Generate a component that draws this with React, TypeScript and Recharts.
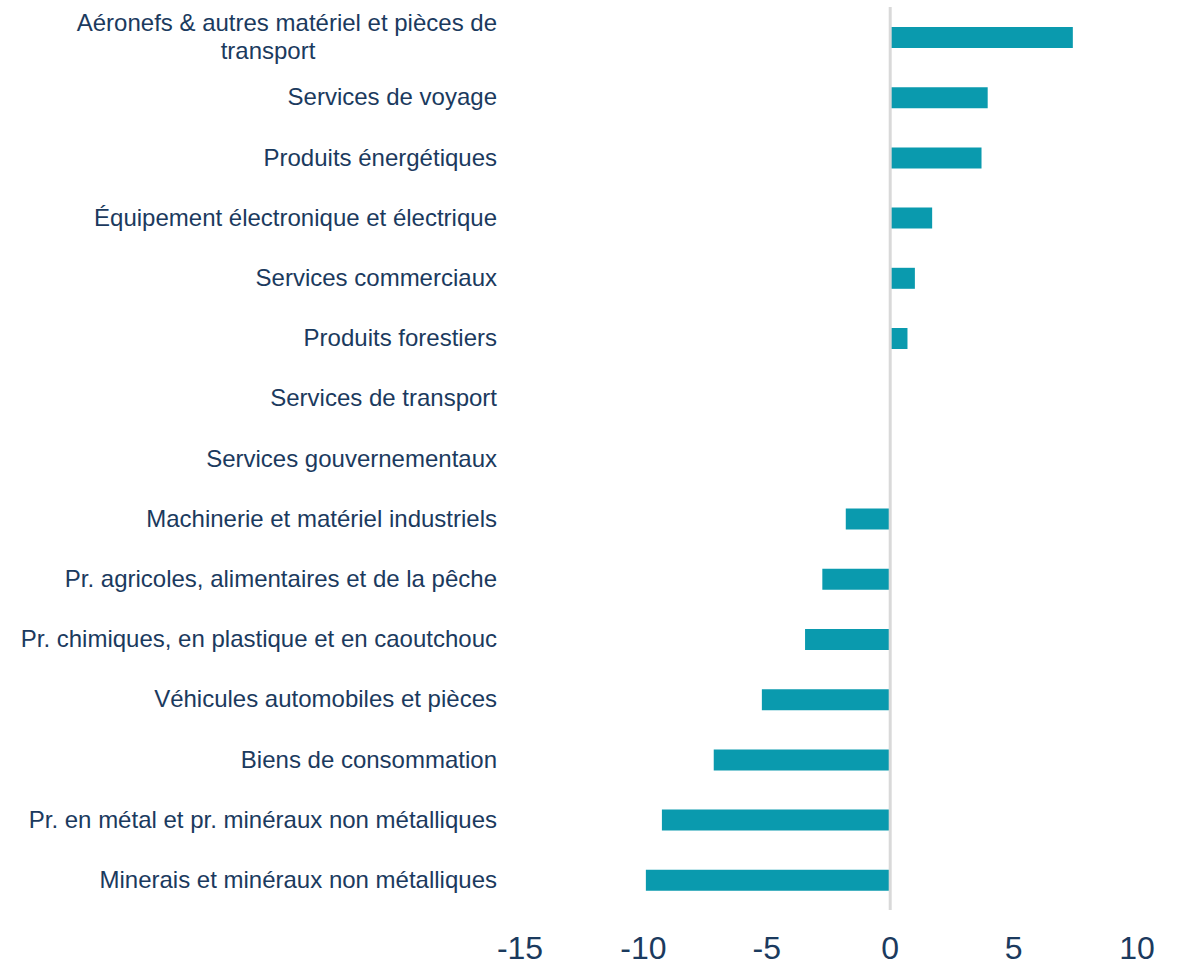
import React from 'react'
import { BarChart, Bar, XAxis, YAxis, ReferenceLine } from 'recharts'

const categories = [
  'Aéronefs & autres matériel et pièces de\ntransport',
  'Services de voyage',
  'Produits énergétiques',
  'Équipement électronique et électrique',
  'Services commerciaux',
  'Produits forestiers',
  'Services de transport',
  'Services gouvernementaux',
  'Machinerie et matériel industriels',
  'Pr. agricoles, alimentaires et de la pêche',
  'Pr. chimiques, en plastique et en caoutchouc',
  'Véhicules automobiles et pièces',
  'Biens de consommation',
  'Pr. en métal et pr. minéraux non métalliques',
  'Minerais et minéraux non métalliques',
]

const values = [7.4, 3.95, 3.7, 1.7, 1.0, 0.7, 0, 0, -1.8, -2.75, -3.45, -5.2, -7.15, -9.25, -9.9]

const xTicks = [-15, -10, -5, 0, 5, 10]

const data = categories.map((name, i) => ({ name, value: values[i] }))

const textColor = '#1B3A5E'
const barColor = '#0A9AAE'
const font = "'Liberation Sans', Arial, sans-serif"

function CategoryTick({ x, y, payload }: any) {
  const lines = String(payload.value).split('\n')
  if (lines.length === 1) {
    return (
      <text x={x} y={y} dy={8} textAnchor="end" fill={textColor} fontSize={24} fontFamily={font}>
        {lines[0]}
      </text>
    )
  }
  // wrapped label: second line sits centred under the first
  return (
    <g fontSize={24} fontFamily={font} fill={textColor}>
      <text x={x} y={y - 14} dy={8} textAnchor="end">{lines[0]}</text>
      <text x={x - 229} y={y + 14} dy={8} textAnchor="middle">{lines[1]}</text>
    </g>
  )
}

function ValueTick({ x, y, payload }: any) {
  return (
    <text x={x} y={y} dy={22} textAnchor="middle" fill={textColor} fontSize={32} fontFamily={font}>
      {payload.value}
    </text>
  )
}

export default function App() {
  return (
    <div style={{ position: 'absolute', left: 0, top: 0, background: '#fff' }}>
      <BarChart
        width={1183}
        height={966}
        data={data}
        layout="vertical"
        margin={{ top: 7, right: 46, bottom: 0, left: 0 }}
      >
        <XAxis
          type="number"
          domain={[-15, 10]}
          ticks={xTicks}
          axisLine={false}
          tickLine={false}
          tickSize={0}
          tickMargin={27}
          height={56}
          tick={<ValueTick />}
        />
        <YAxis
          type="category"
          dataKey="name"
          width={520}
          axisLine={false}
          tickLine={false}
          tickSize={0}
          tickMargin={23}
          interval={0}
          tick={<CategoryTick />}
        />
        <ReferenceLine x={0} stroke="#D9D9D9" strokeWidth={3} />
        <Bar dataKey="value" fill={barColor} barSize={21} isAnimationActive={false} />
      </BarChart>
    </div>
  )
}
